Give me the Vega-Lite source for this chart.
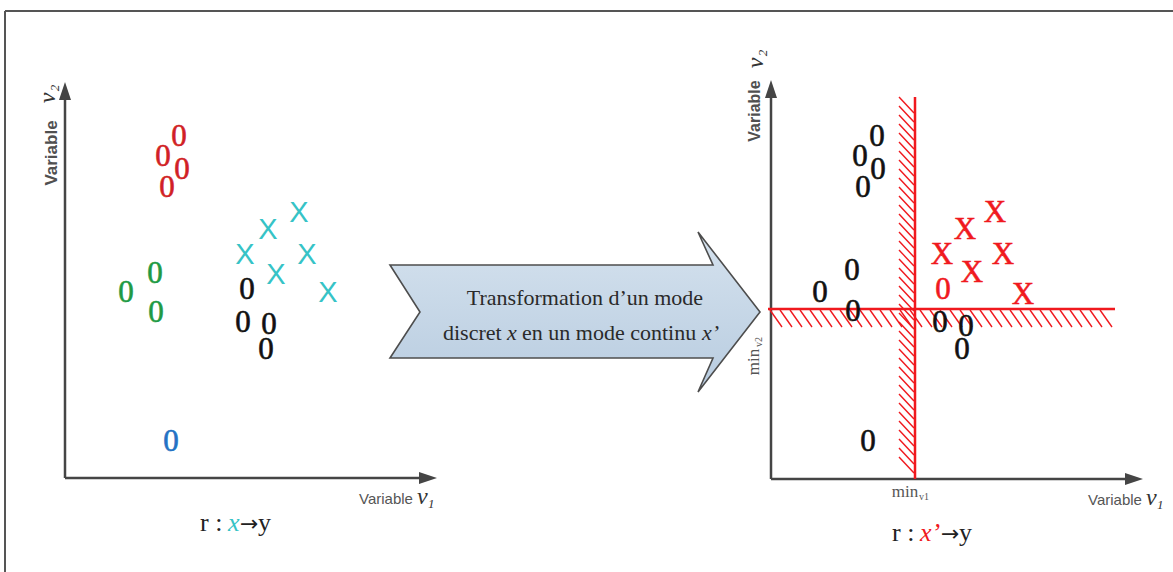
{
 "$schema": "https://vega.github.io/schema/vega-lite/v6.json",
 "width": 1173, "height": 572, "autosize": "none", "padding": 0, "background": "white",
 "config": {"view": {"stroke": null}},
 "datasets": {
  "frame": [{"x":5,"y":11,"x2":1173,"y2":11},{"x":5,"y":11,"x2":5,"y2":572}],
  "axes": [{"x":65,"y":478,"x2":65,"y2":100},{"x":65,"y":478,"x2":421,"y2":478},{"x":771,"y":479,"x2":771,"y2":98},{"x":771,"y":479,"x2":1126,"y2":479}],
  "heads": [{"x":65,"y":97,"dir":"up"},{"x":422,"y":478,"dir":"right"},{"x":771,"y":95,"dir":"up"},{"x":1128,"y":479,"dir":"right"}],
  "cuts": [{"x":915,"y":97,"x2":915,"y2":479},{"x":768,"y":309,"x2":1115,"y2":309}],
  "hatch": [
   {"x":899,"y":97,"x2":914,"y2":113},{"x":899,"y":106,"x2":914,"y2":122},{"x":899,"y":115,"x2":914,"y2":131},{"x":899,"y":124,"x2":914,"y2":140},
   {"x":899,"y":133,"x2":914,"y2":149},{"x":899,"y":142,"x2":914,"y2":158},{"x":899,"y":151,"x2":914,"y2":167},{"x":899,"y":160,"x2":914,"y2":176},
   {"x":899,"y":169,"x2":914,"y2":185},{"x":899,"y":178,"x2":914,"y2":194},{"x":899,"y":187,"x2":914,"y2":203},{"x":899,"y":196,"x2":914,"y2":212},
   {"x":899,"y":205,"x2":914,"y2":221},{"x":899,"y":214,"x2":914,"y2":230},{"x":899,"y":223,"x2":914,"y2":239},{"x":899,"y":232,"x2":914,"y2":248},
   {"x":899,"y":241,"x2":914,"y2":257},{"x":899,"y":250,"x2":914,"y2":266},{"x":899,"y":259,"x2":914,"y2":275},{"x":899,"y":268,"x2":914,"y2":284},
   {"x":899,"y":277,"x2":914,"y2":293},{"x":899,"y":286,"x2":914,"y2":302},{"x":899,"y":295,"x2":914,"y2":311},{"x":899,"y":304,"x2":914,"y2":320},
   {"x":899,"y":313,"x2":914,"y2":329},{"x":899,"y":322,"x2":914,"y2":338},{"x":899,"y":331,"x2":914,"y2":347},{"x":899,"y":340,"x2":914,"y2":356},
   {"x":899,"y":349,"x2":914,"y2":365},{"x":899,"y":358,"x2":914,"y2":374},{"x":899,"y":367,"x2":914,"y2":383},{"x":899,"y":376,"x2":914,"y2":392},
   {"x":899,"y":385,"x2":914,"y2":401},{"x":899,"y":394,"x2":914,"y2":410},{"x":899,"y":403,"x2":914,"y2":419},{"x":899,"y":412,"x2":914,"y2":428},
   {"x":899,"y":421,"x2":914,"y2":437},{"x":899,"y":430,"x2":914,"y2":446},{"x":899,"y":439,"x2":914,"y2":455},{"x":899,"y":448,"x2":914,"y2":464},
   {"x":899,"y":457,"x2":914,"y2":473},
   {"x":770,"y":310,"x2":782,"y2":327},{"x":780,"y":310,"x2":792,"y2":327},{"x":790,"y":310,"x2":802,"y2":327},{"x":800,"y":310,"x2":812,"y2":327},
   {"x":810,"y":310,"x2":822,"y2":327},{"x":820,"y":310,"x2":832,"y2":327},{"x":830,"y":310,"x2":842,"y2":327},{"x":840,"y":310,"x2":852,"y2":327},
   {"x":850,"y":310,"x2":862,"y2":327},{"x":860,"y":310,"x2":872,"y2":327},{"x":870,"y":310,"x2":882,"y2":327},{"x":880,"y":310,"x2":892,"y2":327},
   {"x":890,"y":310,"x2":902,"y2":327},{"x":900,"y":310,"x2":912,"y2":327},{"x":910,"y":310,"x2":922,"y2":327},{"x":920,"y":310,"x2":932,"y2":327},
   {"x":930,"y":310,"x2":942,"y2":327},{"x":940,"y":310,"x2":952,"y2":327},{"x":950,"y":310,"x2":962,"y2":327},{"x":960,"y":310,"x2":972,"y2":327},
   {"x":970,"y":310,"x2":982,"y2":327},{"x":980,"y":310,"x2":992,"y2":327},{"x":990,"y":310,"x2":1002,"y2":327},{"x":1000,"y":310,"x2":1012,"y2":327},
   {"x":1010,"y":310,"x2":1022,"y2":327},{"x":1020,"y":310,"x2":1032,"y2":327},{"x":1030,"y":310,"x2":1042,"y2":327},{"x":1040,"y":310,"x2":1052,"y2":327},
   {"x":1050,"y":310,"x2":1062,"y2":327},{"x":1060,"y":310,"x2":1072,"y2":327},{"x":1070,"y":310,"x2":1082,"y2":327},{"x":1080,"y":310,"x2":1092,"y2":327},
   {"x":1090,"y":310,"x2":1102,"y2":327},{"x":1100,"y":310,"x2":1112,"y2":327}
  ],
  "pts": [
   {"p":"L","g":"0","c":"o1","x":179,"y":137},{"p":"L","g":"0","c":"o1","x":163,"y":157},{"p":"L","g":"0","c":"o1","x":182,"y":170},{"p":"L","g":"0","c":"o1","x":167,"y":188},
   {"p":"L","g":"0","c":"o2","x":126,"y":293},{"p":"L","g":"0","c":"o2","x":155,"y":274},{"p":"L","g":"0","c":"o2","x":156,"y":313},
   {"p":"L","g":"0","c":"o3","x":171,"y":442},
   {"p":"L","g":"0","c":"o4","x":247,"y":290},{"p":"L","g":"0","c":"o4","x":243,"y":323},{"p":"L","g":"0","c":"o4","x":269,"y":325},{"p":"L","g":"0","c":"o4","x":266,"y":350},
   {"p":"L","g":"X","c":"x1","x":299,"y":213},{"p":"L","g":"X","c":"x1","x":268,"y":230},{"p":"L","g":"X","c":"x1","x":245,"y":255},{"p":"L","g":"X","c":"x1","x":307,"y":255},{"p":"L","g":"X","c":"x1","x":276,"y":275},{"p":"L","g":"X","c":"x1","x":328,"y":293},
   {"p":"R","g":"0","c":"out","x":877,"y":137},{"p":"R","g":"0","c":"out","x":860,"y":157},{"p":"R","g":"0","c":"out","x":878,"y":170},{"p":"R","g":"0","c":"out","x":863,"y":188},
   {"p":"R","g":"0","c":"out","x":820,"y":293},{"p":"R","g":"0","c":"out","x":852,"y":271},{"p":"R","g":"0","c":"out","x":853,"y":312},
   {"p":"R","g":"0","c":"out","x":868,"y":442},
   {"p":"R","g":"0","c":"out","x":940,"y":323},{"p":"R","g":"0","c":"out","x":966,"y":327},{"p":"R","g":"0","c":"out","x":962,"y":350},
   {"p":"R","g":"0","c":"in","x":943,"y":290},
   {"p":"R","g":"X","c":"in","x":995,"y":213},{"p":"R","g":"X","c":"in","x":965,"y":230},{"p":"R","g":"X","c":"in","x":942,"y":255},{"p":"R","g":"X","c":"in","x":1003,"y":255},{"p":"R","g":"X","c":"in","x":972,"y":273},{"p":"R","g":"X","c":"in","x":1023,"y":295}
  ],
  "labels": [
   {"role":"ylab","t":"Variable","x":52,"y":153},
   {"role":"ylab2","t":"Variable","x":755,"y":111},
   {"role":"varR","t":"v","x":48,"y":98},
   {"role":"subR","t":"2","x":55,"y":88},
   {"role":"varR","t":"v","x":756,"y":63},
   {"role":"subR","t":"2","x":763,"y":53},
   {"role":"xlab","t":"Variable","x":359,"y":499},
   {"role":"var","t":"v","x":417,"y":497},
   {"role":"sub","t":"1","x":428,"y":504},
   {"role":"xlab","t":"Variable","x":1088,"y":500},
   {"role":"var","t":"v","x":1146,"y":498},
   {"role":"sub","t":"1","x":1157,"y":505},
   {"role":"min","t":"min","x":905,"y":492},
   {"role":"minsub","t":"v1","x":919,"y":497},
   {"role":"minR","t":"min","x":754,"y":362},
   {"role":"minsubR","t":"v2","x":759,"y":347},
   {"role":"frm","t":"r :","x":200,"y":523},
   {"role":"frmv","t":"x","x":228,"y":523,"c":"x1"},
   {"role":"frma","t":"→","x":240,"y":524},
   {"role":"frm","t":"y","x":258,"y":523},
   {"role":"frm","t":"r :","x":892,"y":533},
   {"role":"frmv","t":"x’","x":920,"y":533,"c":"in"},
   {"role":"frma","t":"→","x":941,"y":534},
   {"role":"frm","t":"y","x":959,"y":533},
   {"role":"box","t":"Transformation d’un mode","x":585,"y":298},
   {"role":"boxn","t":"discret","x":443,"y":333},
   {"role":"boxi","t":"x","x":507,"y":333},
   {"role":"boxn","t":"en un mode continu","x":522,"y":333},
   {"role":"boxi","t":"x’","x":702,"y":333}
  ]
 },
 "layer": [
  {"data":{"values":[{"type":"Feature","properties":{"name":"transformation"},"geometry":{"type":"Polygon","coordinates":[[[698,232],[760,312],[698,392],[713,358],[390,358],[420,312],[390,265],[713,265],[698,232]]]}}]},
   "projection":{"type":"identity","scale":1,"translate":[0,0]},
   "mark":{"type":"geoshape","fill":{"gradient":"linear","x1":0,"y1":0,"x2":0,"y2":1,"stops":[{"offset":0,"color":"#d5e2ee"},{"offset":1,"color":"#b8cce0"}]},"stroke":"#4d4d4d","strokeWidth":1.6,"opacity":1}},
  {"encoding": {
    "x": {"field":"x","type":"quantitative","scale":{"domain":[0,1173],"nice":false,"zero":false},"axis":null},
    "y": {"field":"y","type":"quantitative","scale":{"domain":[0,572],"nice":false,"zero":false,"reverse":true},"axis":null}
   },
   "layer": [
  {"data":{"name":"frame"},"mark":{"type":"rule","color":"#555555","strokeWidth":2},"encoding":{"x2":{"field":"x2"},"y2":{"field":"y2"}}},
  {"data":{"name":"axes"},"mark":{"type":"rule","color":"#454545","strokeWidth":2.5},"encoding":{"x2":{"field":"x2"},"y2":{"field":"y2"}}},
  {"data":{"name":"heads"},"transform":[{"filter":"datum.dir === 'up'"}],"mark":{"type":"point","shape":"M0,-1L0.4,0.2L-0.4,0.2Z","size":900,"filled":true,"color":"#454545","opacity":1,"strokeWidth":0}},
  {"data":{"name":"heads"},"transform":[{"filter":"datum.dir === 'right'"}],"mark":{"type":"point","shape":"M1,0L-0.2,0.4L-0.2,-0.4Z","size":900,"filled":true,"color":"#454545","opacity":1,"strokeWidth":0}},
  {"data":{"name":"hatch"},"mark":{"type":"rule","color":"#f0191e","strokeWidth":1.4},"encoding":{"x2":{"field":"x2"},"y2":{"field":"y2"}}},
  {"data":{"name":"cuts"},"mark":{"type":"rule","color":"#f0191e","strokeWidth":2.5},"encoding":{"x2":{"field":"x2"},"y2":{"field":"y2"}}},
  {"data":{"name":"pts"},"transform":[{"filter":"datum.g === '0'"}],"mark":{"type":"text","font":"Liberation Serif","fontSize":31,"align":"center","baseline":"middle","strokeWidth":0.6},
   "encoding":{"text":{"field":"g"},
    "color":{"field":"c","type":"nominal","legend":null,"scale":{"domain":["o1","o2","o3","o4","x1","in","out"],"range":["#d11f26","#1e9a44","#2372c4","#111111","#36c3c6","#f0191e","#111111"]}},
    "stroke":{"field":"c","type":"nominal","legend":null,"scale":{"domain":["o1","o2","o3","o4","x1","in","out"],"range":["#d11f26","#1e9a44","#2372c4","#111111","#36c3c6","#f0191e","#111111"]}}}},
  {"data":{"name":"pts"},"transform":[{"filter":"datum.g === 'X' && datum.p === 'L'"}],"mark":{"type":"text","font":"Liberation Sans","fontSize":29,"align":"center","baseline":"middle"},
   "encoding":{"text":{"field":"g"},"color":{"field":"c","type":"nominal","legend":null,"scale":{"domain":["o1","o2","o3","o4","x1","in","out"],"range":["#d11f26","#1e9a44","#2372c4","#111111","#36c3c6","#f0191e","#111111"]}}}},
  {"data":{"name":"pts"},"transform":[{"filter":"datum.g === 'X' && datum.p === 'R'"}],"mark":{"type":"text","font":"Liberation Serif","fontSize":31,"align":"center","baseline":"middle","strokeWidth":0.5},
   "encoding":{"text":{"field":"g"},
    "color":{"field":"c","type":"nominal","legend":null,"scale":{"domain":["o1","o2","o3","o4","x1","in","out"],"range":["#d11f26","#1e9a44","#2372c4","#111111","#36c3c6","#f0191e","#111111"]}},
    "stroke":{"field":"c","type":"nominal","legend":null,"scale":{"domain":["o1","o2","o3","o4","x1","in","out"],"range":["#d11f26","#1e9a44","#2372c4","#111111","#36c3c6","#f0191e","#111111"]}}}},
  {"data":{"name":"labels"},"transform":[{"filter":"datum.role === 'ylab'"}],"mark":{"type":"text","font":"Liberation Sans","fontWeight":"bold","fontSize":17,"color":"#505050","angle":270,"align":"center","baseline":"middle"},"encoding":{"text":{"field":"t"}}},
  {"data":{"name":"labels"},"transform":[{"filter":"datum.role === 'ylab2'"}],"mark":{"type":"text","font":"Liberation Sans","fontWeight":"bold","fontSize":16,"color":"#505050","angle":270,"align":"center","baseline":"middle"},"encoding":{"text":{"field":"t"}}},
  {"data":{"name":"labels"},"transform":[{"filter":"datum.role === 'varR'"}],"mark":{"type":"text","font":"Liberation Serif","fontStyle":"italic","fontSize":24,"color":"#333333","angle":270,"align":"center","baseline":"middle"},"encoding":{"text":{"field":"t"}}},
  {"data":{"name":"labels"},"transform":[{"filter":"datum.role === 'subR'"}],"mark":{"type":"text","font":"Liberation Serif","fontStyle":"italic","fontSize":13,"color":"#333333","angle":270,"align":"center","baseline":"middle"},"encoding":{"text":{"field":"t"}}},
  {"data":{"name":"labels"},"transform":[{"filter":"datum.role === 'xlab'"}],"mark":{"type":"text","font":"Liberation Sans","fontSize":15,"color":"#555555","align":"left","baseline":"middle"},"encoding":{"text":{"field":"t"}}},
  {"data":{"name":"labels"},"transform":[{"filter":"datum.role === 'var'"}],"mark":{"type":"text","font":"Liberation Serif","fontStyle":"italic","fontSize":24,"color":"#333333","align":"left","baseline":"middle"},"encoding":{"text":{"field":"t"}}},
  {"data":{"name":"labels"},"transform":[{"filter":"datum.role === 'sub'"}],"mark":{"type":"text","font":"Liberation Serif","fontStyle":"italic","fontSize":13,"color":"#333333","align":"left","baseline":"middle"},"encoding":{"text":{"field":"t"}}},
  {"data":{"name":"labels"},"transform":[{"filter":"datum.role === 'min'"}],"mark":{"type":"text","font":"Liberation Serif","fontSize":17,"color":"#555555","align":"center","baseline":"middle"},"encoding":{"text":{"field":"t"}}},
  {"data":{"name":"labels"},"transform":[{"filter":"datum.role === 'minsub'"}],"mark":{"type":"text","font":"Liberation Serif","fontSize":10,"color":"#555555","align":"left","baseline":"middle"},"encoding":{"text":{"field":"t"}}},
  {"data":{"name":"labels"},"transform":[{"filter":"datum.role === 'minR'"}],"mark":{"type":"text","font":"Liberation Serif","fontSize":17,"color":"#555555","angle":270,"align":"center","baseline":"middle"},"encoding":{"text":{"field":"t"}}},
  {"data":{"name":"labels"},"transform":[{"filter":"datum.role === 'minsubR'"}],"mark":{"type":"text","font":"Liberation Serif","fontSize":10,"color":"#555555","angle":270,"align":"left","baseline":"middle"},"encoding":{"text":{"field":"t"}}},
  {"data":{"name":"labels"},"transform":[{"filter":"datum.role === 'frm'"}],"mark":{"type":"text","font":"Liberation Serif","fontSize":26,"color":"#222222","align":"left","baseline":"middle"},"encoding":{"text":{"field":"t"}}},
  {"data":{"name":"labels"},"transform":[{"filter":"datum.role === 'frma'"}],"mark":{"type":"text","font":"DejaVu Sans","fontSize":22,"color":"#222222","align":"left","baseline":"middle"},"encoding":{"text":{"field":"t"}}},
  {"data":{"name":"labels"},"transform":[{"filter":"datum.role === 'frmv'"}],"mark":{"type":"text","font":"Liberation Serif","fontStyle":"italic","fontSize":26,"align":"left","baseline":"middle"},
   "encoding":{"text":{"field":"t"},"color":{"field":"c","type":"nominal","legend":null,"scale":{"domain":["o1","o2","o3","o4","x1","in","out"],"range":["#d11f26","#1e9a44","#2372c4","#111111","#36c3c6","#f0191e","#111111"]}}}},
  {"data":{"name":"labels"},"transform":[{"filter":"datum.role === 'box'"}],"mark":{"type":"text","font":"Liberation Serif","fontSize":22,"color":"#2a2a2a","align":"center","baseline":"middle"},"encoding":{"text":{"field":"t"}}},
  {"data":{"name":"labels"},"transform":[{"filter":"datum.role === 'boxn'"}],"mark":{"type":"text","font":"Liberation Serif","fontSize":22,"color":"#2a2a2a","align":"left","baseline":"middle"},"encoding":{"text":{"field":"t"}}},
  {"data":{"name":"labels"},"transform":[{"filter":"datum.role === 'boxi'"}],"mark":{"type":"text","font":"Liberation Serif","fontStyle":"italic","fontSize":22,"color":"#2a2a2a","align":"left","baseline":"middle"},"encoding":{"text":{"field":"t"}}}
   ]}
 ]
}
